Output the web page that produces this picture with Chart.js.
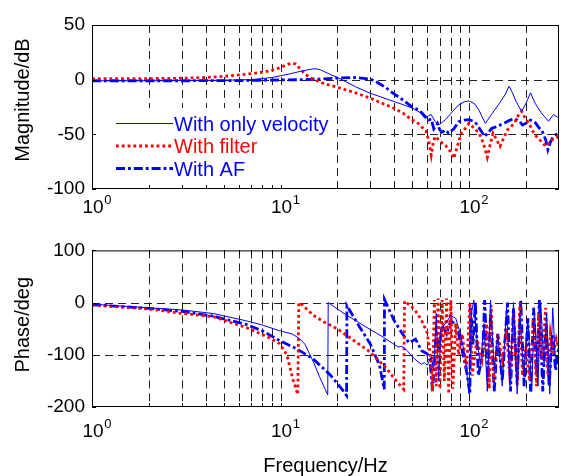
<!DOCTYPE html>
<html>
<head>
<meta charset="utf-8">
<script src="https://cdn.jsdelivr.net/npm/chart.js@4.4.0/dist/chart.umd.min.js"></script>
<style>
  html, body { margin: 0; padding: 0; background: #fff; }
  #wrap { position: relative; width: 561px; height: 476px; }
  canvas { position: absolute; left: 0; }
</style>
</head>
<body>
<div id="wrap">
  <canvas id="mag" width="561" height="232" style="top:0"></canvas>
  <canvas id="phase" width="561" height="244" style="top:232px"></canvas>
</div>
<script>
// series names
const seriesNames = ['With only velocity', 'With filter', 'With AF'];

// magnitude (dB)
const velMagFreq = [1, 2, 3, 5, 7, 8, 9, 10, 11, 12, 13, 14, 15, 16, 17, 18.5, 20, 22, 25, 30, 35, 40, 45, 50, 55, 58, 61, 63, 66, 69, 72, 75, 80, 88, 95, 100, 107, 113, 118, 122, 130, 143, 155, 163, 170, 176, 183, 190, 200, 212, 218, 225, 243, 264, 280, 300];
const velMag = [-1, -1, -0.8, -0.5, 0, 1, 2, 3.5, 5, 6.5, 8, 9, 10, 9.5, 7.5, 4.5, 2, -1.5, -6.5, -12.5, -16.5, -20, -23, -26, -30, -35, -33, -32, -38, -41.5, -39, -36.5, -31, -23, -20, -19.5, -22, -28, -35, -40, -33, -23, -14, -6, -12, -18.5, -24, -29, -22, -12, -17, -22, -31, -38, -32, -35];

const filtMagFreq = [1, 2, 3, 4, 5, 6, 7, 8, 9, 10, 10.7, 11.4, 12, 12.7, 13.5, 14.5, 16.6, 20, 25, 30, 35, 40, 45, 50, 53, 56, 59, 61, 63, 64.5, 66, 69, 72, 75, 78, 80, 83, 87, 91, 95, 100, 106, 113, 119, 125, 130, 134, 140, 146, 153, 160, 167, 174, 182, 190, 198, 208, 216, 225, 240, 255, 265, 275, 290, 300];
const filtMag = [1, 1, 1.3, 2, 3, 4.3, 5.5, 6.8, 8.5, 11, 13.5, 15, 14.5, 10, 5, 1.5, -3, -7, -12, -17, -22, -26, -31, -37, -39, -43, -47, -55, -69, -58, -52, -55, -58, -60, -64, -66, -72, -60, -49, -45, -40, -44, -49, -58, -71, -58, -49, -55, -61, -53, -46, -43, -40, -33, -29, -35, -40, -46, -51, -56, -61, -58, -55, -53, -52];

const afMagFreq = [1, 3, 6, 10, 13, 16, 20, 25, 30, 33, 36, 40, 45, 50, 53, 56, 58, 61, 63, 65, 68, 70, 72, 75, 78, 83, 88, 94, 100, 105, 109, 115, 121, 127, 132, 140, 155, 165, 174, 185, 192, 200, 212, 225, 235, 243, 255, 262, 270, 280, 290, 300];
const afMag = [-1, -1, -0.8, -0.3, 0, 0.5, 1.5, 2, 0.5, -3, -7, -13, -19, -25, -27, -30, -33, -37, -36, -45, -40, -46, -48, -46, -49, -45, -38.5, -37, -36.5, -38, -40, -46, -52, -48, -44.5, -43, -39.5, -37, -35.5, -38, -41.5, -40, -37, -39.5, -44, -46, -55, -64, -57, -52, -50, -49];

// phase (deg)
const velPhFreq = [1, 2, 3, 4.4, 6.6, 8, 9.9, 11.5, 12.5, 13.5, 14.2, 15, 16.1, 17.8, 17.9, 20, 22.4, 26, 30, 35, 40, 42, 44, 47, 50, 53, 56, 58, 60, 62, 63, 65, 67, 69, 71, 75, 80, 85, 90, 95, 100, 103, 106, 110, 115, 120, 125, 130, 136, 142, 150, 158, 165, 172, 180, 186, 195, 205, 215, 222, 232, 240, 250, 258, 268, 278, 288, 300];
const velPh = [-3, -10, -14, -21, -35, -43, -54, -60, -68, -80, -97, -115, -142, -177, 0, -12, -24, -38, -52, -66, -80, -85, -84, -92, -104, -112, -118, -115, -120, -110, -104, -130, -20, -150, -50, -40, -25, -30, -60, -100, -175, -20, 5, -70, -120, -40, -170, 5, -130, -60, -160, -10, -160, 0, -175, -20, -140, -30, -170, -10, -160, 0, -120, -20, -175, -10, -120, -100];

const filtPhFreq = [1, 2, 2.9, 4.4, 6.6, 8.1, 9, 9.9, 10.8, 11.65, 12.35, 12.5, 13, 14.9, 17, 20, 25, 30, 36.5, 40, 45, 45.5, 50, 53, 56, 60, 63, 64, 65.5, 67, 68.5, 70, 72, 74, 76, 78, 80, 82, 85, 88, 92, 97, 101, 104, 110, 117, 124, 128, 131, 135, 142, 150, 158, 165, 172, 180, 186, 192, 200, 210, 220, 228, 235, 245, 255, 262, 270, 280, 290, 300];
const filtPh = [-5, -12, -20, -27, -48, -62, -70, -79, -100, -148, -176, 0, -4, -24, -37, -50, -75, -95, -126, -145, -166, 3, -9, -20, -34, -58, -113, -170, 5, -160, 8, -165, 5, -150, 8, -175, 5, -165, -40, -100, -60, -130, 0, -140, -70, -110, -40, -165, -5, -150, -60, -110, -50, -150, -20, -160, 0, -140, -90, -150, -30, -160, -20, -110, -10, -140, -60, -100, -70, -90];

const afPhFreq = [1, 2, 3, 4.4, 6.6, 8.1, 9.9, 11.65, 12.5, 14.9, 18.3, 21.4, 22.4, 22.5, 25.6, 30, 33.5, 35.5, 35.6, 40, 44, 48, 52, 56, 60, 62, 64, 66, 67, 69, 72, 76, 80, 84, 88, 93, 98, 101, 102, 105, 108, 112, 118, 121, 126, 130, 136, 142, 150, 160, 166, 172, 180, 188, 196, 205, 212, 220, 228, 236, 246, 256, 266, 276, 288, 300];
const afPh = [-4, -11, -17, -26, -42, -55, -73, -85, -91, -108, -138, -168, -178, -6, -40, -80, -120, -166, 6, -34, -58, -77, -70, -92, -98, -110, -170, -100, -60, -90, -45, -60, -35, -40, -60, -100, -140, -175, -10, -80, 0, -140, -100, 5, -150, -20, -170, -60, -150, 0, -170, -10, -150, 5, -160, -30, -170, -10, -140, 5, -170, -40, -160, -60, -130, -80];

// axis ticks
const xGrid = [2, 3, 4, 5, 6, 7, 8, 9, 10, 20, 30, 40, 50, 60, 70, 80, 90, 100, 200];
const xLabelValues = [1, 10, 100];
const xLabelExp = ['0', '1', '2'];
const magTicks = [-100, -50, 0, 50];
const phaseTicks = [-200, -100, 0, 100];

const FONT = '"Liberation Sans", Arial, Helvetica, sans-serif';
Chart.defaults.font.family = FONT;
Chart.defaults.color = '#000';

const styles = [
  { color: '#0000ff', width: 1, dash: [] },
  { color: '#ff0000', width: 2.8, dash: [2.8, 3] },
  { color: '#0000ff', width: 2.8, dash: [9, 3, 2.8, 3] }
];

function pts(f, v) {
  return f.map((fx, i) => ({ x: fx, y: v[i] }));
}

function drawLegend(ctx, a) {
  ctx.save();
  ctx.fillStyle = '#fff';
  ctx.fillRect(a.left + 1, 108, 333 - a.left, a.bottom - 109);
  ctx.font = '20px ' + FONT;
  ctx.textAlign = 'left';
  ctx.textBaseline = 'alphabetic';
  seriesNames.forEach((name, i) => {
    const yy = 123.5 + i * 22.5;
    const s = styles[i];
    ctx.strokeStyle = s.color;
    ctx.lineWidth = s.width;
    ctx.setLineDash(s.dash);
    ctx.beginPath();
    ctx.moveTo(116, yy);
    ctx.lineTo(173, yy);
    ctx.stroke();
    ctx.fillStyle = s.color;
    ctx.fillText(name, 174, yy + 7);
  });
  ctx.restore();
}

const bodePlugin = {
  id: 'bode',
  beforeDatasetsDraw(chart, args, o) {
    const { ctx, chartArea: a, scales: { x, y } } = chart;
    ctx.save();
    ctx.strokeStyle = '#222';
    ctx.lineWidth = 1;
    ctx.setLineDash([8, 5]);
    ctx.beginPath();
    xGrid.forEach(v => {
      const px = Math.round(x.getPixelForValue(v)) + 0.5;
      ctx.moveTo(px, a.top);
      ctx.lineTo(px, a.bottom);
    });
    o.yGrid.forEach(v => {
      const py = Math.round(y.getPixelForValue(v)) + 0.5;
      ctx.moveTo(a.left, py);
      ctx.lineTo(a.right, py);
    });
    ctx.stroke();
    ctx.restore();
    if (o.legend) drawLegend(ctx, a);
  },
  afterDraw(chart, args, o) {
    const { ctx, chartArea: a, scales: { x, y } } = chart;
    ctx.save();
    ctx.strokeStyle = '#000';
    ctx.lineWidth = 1;
    ctx.setLineDash([]);
    ctx.strokeRect(a.left + 0.5, a.top + 0.5, a.right - a.left - 1, a.bottom - a.top - 1);
    ctx.beginPath();
    xGrid.forEach(v => {
      const px = Math.round(x.getPixelForValue(v)) + 0.5;
      ctx.moveTo(px, a.bottom); ctx.lineTo(px, a.bottom - 4);
      ctx.moveTo(px, a.top); ctx.lineTo(px, a.top + 4);
    });
    o.yTicks.forEach(v => {
      const py = Math.round(y.getPixelForValue(v)) + 0.5;
      ctx.moveTo(a.left, py); ctx.lineTo(a.left + 4, py);
      ctx.moveTo(a.right, py); ctx.lineTo(a.right - 4, py);
    });
    ctx.stroke();

    // x tick labels 10^n
    ctx.fillStyle = '#000';
    ctx.textAlign = 'left';
    ctx.textBaseline = 'alphabetic';
    xLabelValues.forEach((v, i) => {
      const px = x.getPixelForValue(v);
      const left = px - 9.5;
      const base = a.bottom + o.labelOffset;
      ctx.font = '19px ' + FONT;
      ctx.fillText('10', left, base);
      const w = ctx.measureText('10').width;
      ctx.font = '13px ' + FONT;
      ctx.fillText(xLabelExp[i], left + w + 0.5, base - 9);
    });

    // axis titles
    ctx.font = '20px ' + FONT;
    ctx.textAlign = 'center';
    ctx.save();
    ctx.translate(28.5, (a.top + a.bottom) / 2 + o.yTitleShift);
    ctx.rotate(-Math.PI / 2);
    ctx.fillText(o.yTitle, 0, 0);
    ctx.restore();
    if (o.xTitle) ctx.fillText(o.xTitle, (a.left + a.right) / 2, o.xTitleY);
    ctx.restore();
  }
};

function makeChart(id, sets, ticks, padTop, xAxisH, pluginOpts) {
  return new Chart(document.getElementById(id), {
    type: 'line',
    data: {
      datasets: sets.map((d, i) => ({
        label: seriesNames[i],
        data: d,
        borderColor: styles[i].color,
        borderWidth: styles[i].width,
        borderDash: styles[i].dash,
        pointRadius: 0,
        tension: 0,
        fill: false
      }))
    },
    options: {
      responsive: false,
      animation: false,
      events: [],
      layout: { padding: { top: padTop, right: 2, left: 0, bottom: 0 } },
      plugins: {
        legend: { display: false },
        tooltip: { enabled: false },
        bode: Object.assign({ yTicks: ticks }, pluginOpts)
      },
      scales: {
        x: {
          type: 'logarithmic',
          min: 1,
          max: 300,
          grid: { display: false, drawTicks: false },
          border: { display: false },
          ticks: { display: false },
          afterFit(s) { s.height = xAxisH; }
        },
        y: {
          min: ticks[0],
          max: ticks[ticks.length - 1],
          afterBuildTicks(s) { s.ticks = ticks.map(v => ({ value: v })); },
          ticks: { padding: 7, font: { size: 19 }, color: '#000' },
          grid: { display: false, drawTicks: false },
          border: { display: false },
          afterFit(s) { s.width = 92; }
        }
      }
    },
    plugins: [bodePlugin]
  });
}

makeChart('mag',
  [pts(velMagFreq, velMag), pts(filtMagFreq, filtMag), pts(afMagFreq, afMag)],
  magTicks, 25, 43,
  { yGrid: [-50, 0], legend: true, yTitle: 'Magnitude/dB', yTitleShift: -7, labelOffset: 24 });

makeChart('phase',
  [pts(velPhFreq, velPh), pts(filtPhFreq, filtPh), pts(afPhFreq, afPh)],
  phaseTicks, 13, 69,
  { yGrid: [-100, 0], legend: false, yTitle: 'Phase/deg', yTitleShift: -4, labelOffset: 30, xTitle: 'Frequency/Hz', xTitleY: 240 });
</script>
</body>
</html>
